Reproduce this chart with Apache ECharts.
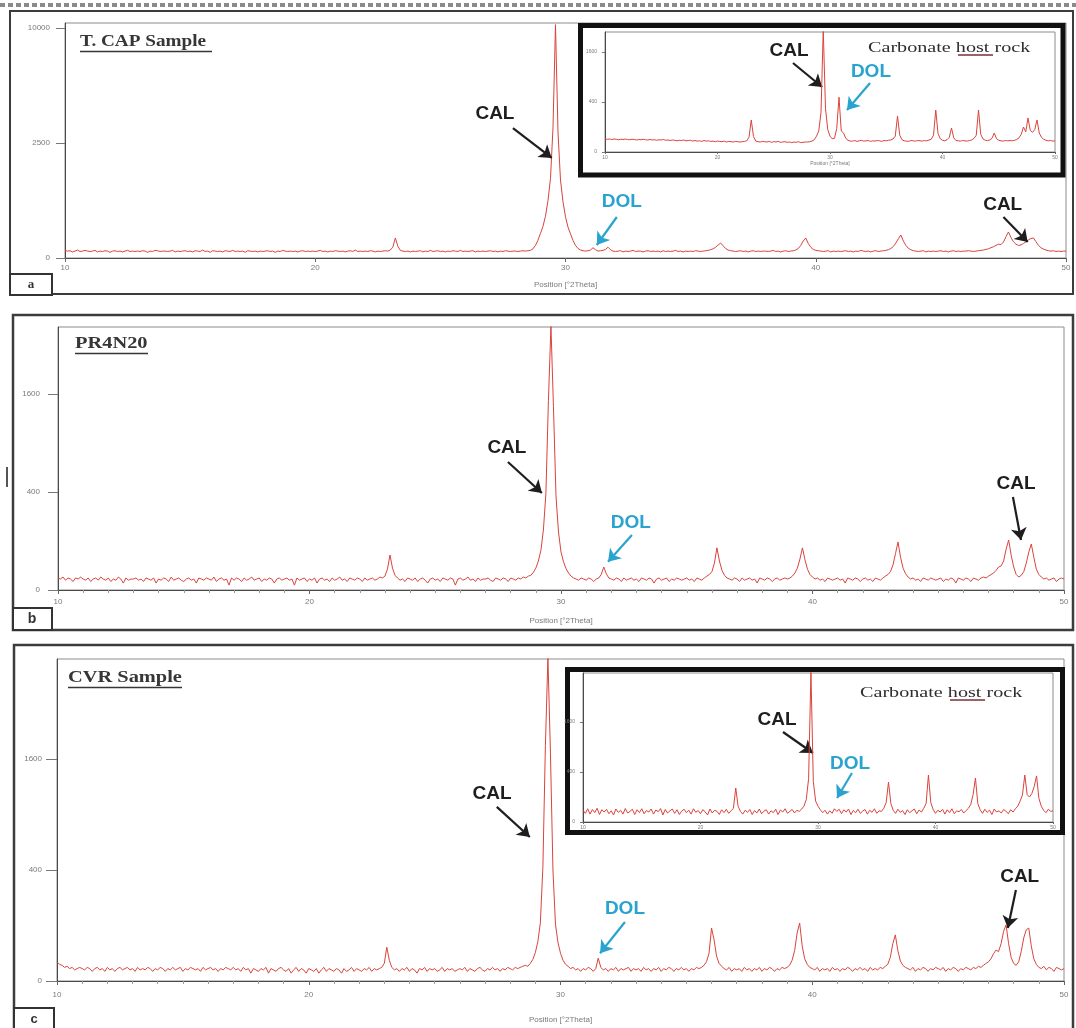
<!DOCTYPE html>
<html>
<head>
<meta charset="utf-8">
<script src="https://cdn.jsdelivr.net/npm/echarts@6/dist/echarts.min.js"></script>
<style>
html,body{margin:0;padding:0;background:#fff;}
#chart{width:1076px;height:1028px;}
</style>
</head>
<body>
<div id="chart"></div>
<script>
// ---- scan settings (°2Theta) ----
const scanStart = 10;
const scanStepMain = 0.1;   // main patterns: 10.0 ... 50.0
const scanStepInset = 0.2;  // inset patterns: 10.0 ... 50.0

// ---- x tick labels ----
const xTickLabels = [10, 20, 30, 40, 50];
// ---- y tick labels (counts, square-root intensity axis) ----
const yTicksA = [0, 2500, 10000];
const yTicksB = [0, 400, 1600];
const yTicksC = [0, 400, 1600];
const yTicksInset = [0, 400, 1600];

// ---- a) T. CAP Sample, counts every 0.1° from 10.0 ----
const countsA = [
 11,9,10,7,9,12,8,9,11,9,
 8,9,11,7,9,8,10,9,6,9,
 10,8,9,7,9,11,8,9,8,9,
 8,10,9,6,9,8,11,10,8,9,
 9,8,9,11,7,9,8,9,10,8,
 9,7,10,9,8,12,8,9,6,10,
 9,8,9,7,10,9,8,11,8,9,
 8,9,6,10,9,8,9,7,9,8,
 9,10,8,9,6,9,8,11,9,8,
 9,8,9,7,9,10,8,9,8,9,
 8,9,11,8,9,7,9,8,10,9,
 8,9,7,9,10,8,12,8,9,8,
 9,8,10,9,7,9,8,9,10,9,
 12,22,76,26,11,9,8,9,7,9,
 8,9,10,7,9,8,11,8,9,10,
 8,9,7,9,8,10,9,8,11,8,
 9,8,9,10,7,9,8,9,8,9,
 10,8,9,7,9,8,10,9,8,9,
 9,8,9,10,9,10,11,16,30,60,
 115,190,330,620,1200,3200,10300,3000,1150,600,
 320,180,110,58,30,17,12,10,9,10,
 12,20,13,9,10,11,14,22,13,9,
 8,9,10,7,9,8,9,11,8,9,
 9,7,9,10,8,9,8,9,7,10,
 8,9,8,9,11,8,9,7,9,8,
 9,8,10,9,8,9,10,11,13,16,
 22,32,42,28,17,12,10,9,8,9,
 10,8,9,7,9,10,8,9,8,9,
 9,8,9,11,8,9,7,9,10,8,
 9,10,12,17,30,55,76,40,22,14,
 11,10,9,8,9,10,7,9,8,9,
 8,9,10,8,9,7,9,8,11,9,
 8,9,7,9,10,8,9,10,11,13,
 17,25,42,70,100,55,30,18,13,10,
 9,8,9,10,7,9,8,9,8,9,
 10,8,9,7,9,10,8,9,8,9,
 9,10,9,8,9,10,11,12,14,16,
 20,24,30,36,34,48,85,128,80,50,
 36,30,32,40,50,62,72,76,50,30,
 20,15,12,10,9,10,8,9,8,9,
 9
];

// ---- b) PR4N20, counts every 0.1° from 10.0 ----
const countsB = [
 6,5,7,4,6,5,3,6,5,7,
 5,4,6,3,5,6,4,7,5,4,
 6,3,5,4,7,5,2,6,4,5,
 5,6,4,5,3,6,5,4,6,2,
 5,4,6,5,3,7,4,5,6,4,
 3,5,6,4,5,2,6,5,4,6,
 5,4,7,3,5,6,4,5,1,6,
 4,6,5,3,6,4,5,7,4,5,
 6,3,5,4,6,5,2,5,6,4,
 5,6,4,5,1,6,4,5,6,3,
 5,4,6,2,5,6,4,5,3,6,
 4,5,7,4,5,3,6,5,4,6,
 5,3,6,4,5,6,4,5,7,6,
 8,18,51,20,9,6,4,5,3,6,
 5,4,6,3,5,6,4,2,5,6,
 4,5,3,6,5,4,6,5,1,5,
 6,4,5,7,4,5,3,6,4,5,
 5,6,4,3,6,5,4,6,5,3,
 6,5,4,6,5,7,6,8,9,13,
 20,35,65,150,390,1500,2900,1400,370,140,
 60,33,19,12,8,6,5,4,6,5,
 4,6,5,3,5,6,10,22,11,6,
 5,4,6,5,3,6,4,5,6,4,
 5,3,6,5,4,6,5,2,5,6,
 4,5,6,3,5,4,6,5,4,5,
 6,4,5,3,6,5,4,6,8,10,
 14,30,74,35,16,9,6,5,4,6,
 5,3,6,4,5,6,4,5,2,6,
 5,4,6,5,3,5,6,4,5,6,
 5,6,8,12,20,40,74,38,18,10,
 7,5,6,4,5,3,6,5,4,5,
 6,4,5,2,6,5,4,6,5,3,
 5,6,4,5,3,6,5,4,6,8,
 10,14,26,55,96,45,20,11,7,5,
 6,4,5,3,6,5,4,6,5,4,
 5,6,3,5,4,6,5,2,6,5,
 4,6,5,3,6,5,4,6,7,6,
 8,10,12,16,22,24,35,70,104,50,
 22,10,7,9,14,30,60,88,45,18,
 10,7,5,6,4,5,6,3,5,6,
 5
];

// ---- c) CVR Sample, counts every 0.1° from 10.0 ----
const countsC = [
 12,9,8,6,7,5,6,4,5,6,
 5,4,6,5,3,5,6,4,5,3,
 6,4,5,3,5,6,4,5,6,4,
 5,3,6,4,5,4,6,5,3,5,
 4,6,5,3,5,4,6,4,5,6,
 3,5,4,6,5,4,5,3,6,4,
 5,6,4,5,3,5,4,6,5,4,
 6,4,5,3,6,4,5,2,5,4,
 3,5,4,6,2,5,4,3,5,6,
 4,3,5,2,4,6,3,5,4,2,
 5,4,3,5,2,4,6,3,5,4,
 3,5,4,2,5,3,4,6,3,5,
 4,3,5,4,6,3,5,4,5,6,
 10,37,14,6,4,5,3,5,4,6,
 3,5,4,2,5,4,6,3,5,4,
 5,3,4,6,3,5,4,5,3,4,
 5,4,6,3,5,4,3,5,6,4,
 3,5,4,6,4,5,3,5,4,6,
 5,4,6,5,6,7,8,7,10,15,
 26,50,110,420,1800,3400,1700,400,105,48,
 25,14,9,7,5,6,4,5,3,5,
 4,6,5,3,5,17,6,4,5,3,
 5,4,6,3,5,4,5,6,3,5,
 4,5,3,6,4,5,3,5,4,6,
 3,5,4,6,5,3,5,4,6,4,
 5,3,5,4,6,5,6,8,12,25,
 91,55,20,10,7,5,4,6,3,5,
 4,5,3,6,4,5,3,5,4,6,
 3,5,4,6,5,3,5,4,6,5,
 6,8,14,30,75,109,40,16,9,6,
 5,4,6,3,5,4,5,3,6,4,
 5,3,5,4,6,5,3,5,4,6,
 4,5,3,6,4,5,4,6,5,7,
 9,18,45,69,30,13,8,6,5,4,
 6,3,5,4,6,5,3,5,4,6,
 5,4,6,3,5,4,6,5,3,5,
 4,6,5,4,6,5,7,6,8,10,
 12,16,24,31,28,45,80,102,45,18,
 10,8,12,28,60,85,91,40,16,9,
 6,5,7,4,6,5,3,6,5,4,
 5
];

// ---- inset (a): Carbonate host rock, counts every 0.2° from 10.0 ----
const countsInsetA = [
 28,26,27,25,27,26,24,26,25,27,
 25,24,26,25,23,25,24,26,24,23,
 25,23,24,22,24,23,25,22,23,21,
 23,22,20,22,21,23,20,21,22,19,
 21,19,20,18,21,19,20,18,19,17,
 19,18,17,19,16,18,17,16,18,17,
 16,17,18,20,35,164,38,19,17,16,
 18,17,16,18,15,17,16,18,15,16,
 17,15,16,14,16,15,17,14,15,16,
 16,17,19,24,40,70,250,2400,300,80,
 40,28,30,90,480,70,58,30,22,19,
 19,21,18,20,22,19,20,21,18,20,
 19,21,20,18,21,20,22,23,27,40,
 207,45,24,20,19,18,21,20,19,21,
 20,19,21,20,23,26,45,282,55,28,
 22,20,24,34,92,32,21,20,19,21,
 20,19,21,23,30,45,282,50,27,22,
 21,23,30,58,28,22,20,19,21,20,
 21,20,22,25,32,50,100,65,185,75,
 62,80,164,58,34,26,22,20,21,19,
 20
];

// ---- inset (c): Carbonate host rock, counts every 0.2° from 10.0 ----
const countsInsetC = [
 22,12,28,10,25,14,30,9,24,16,
 26,11,20,8,27,15,22,10,29,13,
 18,26,9,24,14,28,11,21,16,27,
 10,23,17,29,8,25,13,20,27,12,
 24,9,19,26,14,22,10,28,15,21,
 11,25,16,8,27,13,22,18,9,24,
 14,26,12,20,30,185,40,18,10,22,
 15,25,9,21,13,27,11,19,24,10,
 20,14,26,9,23,16,28,12,18,25,
 13,22,18,26,40,80,300,3600,260,70,
 40,24,14,22,10,20,12,28,18,26,
 11,24,16,27,9,21,14,26,12,19,
 25,10,22,15,28,12,20,18,30,60,
 256,55,22,12,26,15,21,9,24,14,
 20,27,11,23,16,30,55,353,60,25,
 12,22,16,26,10,24,14,28,11,20,
 17,25,13,21,30,50,120,310,55,24,
 12,26,15,22,9,27,16,20,13,25,
 18,11,24,16,28,40,70,117,353,120,
 100,130,200,340,90,40,22,14,26,18,
 20
];

// ---- annotations: [°2Theta, counts] for label centre, arrow start, arrow tip ----
const annotA = [
 {name:'CAL', kind:'cal', label:[27.18,3920], from:[27.9,3192], to:[29.45,1892]},
 {name:'DOL', kind:'dol', label:[32.25,592],  from:[32.05,318], to:[31.25,32]},
 {name:'CAL', kind:'cal', label:[47.47,531],  from:[47.5,318],  to:[48.47,48]}
];
const annotInsetA = [
 {name:'CAL', kind:'cal', label:[26.36,1632], from:[26.71,1267], to:[29.3,676]},
 {name:'DOL', kind:'dol', label:[33.64,1024], from:[33.56,762],  to:[31.51,282]}
];
const annotB = [
 {name:'CAL', kind:'cal', label:[27.85,840], from:[27.89,682], to:[29.24,392]},
 {name:'DOL', kind:'dol', label:[32.78,187], from:[32.82,126], to:[31.87,33]},
 {name:'CAL', kind:'cal', label:[48.09,468], from:[47.97,360], to:[48.29,104]}
];
const annotC = [
 {name:'CAL', kind:'cal', label:[27.28,1135], from:[27.47,983], to:[28.78,673]},
 {name:'DOL', kind:'dol', label:[32.56,168],  from:[32.56,113], to:[31.57,25]},
 {name:'CAL', kind:'cal', label:[48.24,351],  from:[48.09,269], to:[47.77,91]}
];
const annotInsetC = [
 {name:'CAL', kind:'cal', label:[26.51,1665], from:[27.02,1296], to:[29.57,762]},
 {name:'DOL', kind:'dol', label:[32.72,538],  from:[32.89,384],  to:[31.62,92]}
];

// ================= styling / layout =================
const RED = '#d9443c';
const COLORS = {cal:'#1e1e1e', dol:'#2aa4cf'};
const SANS = '"Liberation Sans", Arial, sans-serif';
const SERIF = '"Liberation Serif", "Times New Roman", serif';

const panels = [
 {counts:countsA, step:scanStepMain, ticks:yTicksA, annot:annotA,
  grid:{left:65, top:23, width:1001, height:235}, yMax:102.2, inset:false,
  nameGap:23, xLabelMargin:6, yLabelMargin:15, tickLen:9, minor:false},
 {counts:countsB, step:scanStepMain, ticks:yTicksB, annot:annotB,
  grid:{left:58, top:327, width:1006, height:263}, yMax:53.67, inset:false,
  nameGap:27, xLabelMargin:8, yLabelMargin:18, tickLen:10, minor:true},
 {counts:countsC, step:scanStepMain, ticks:yTicksC, annot:annotC,
  grid:{left:57, top:659, width:1007, height:322}, yMax:58.0, inset:false,
  nameGap:35, xLabelMargin:10, yLabelMargin:15, tickLen:11, minor:true},
 {counts:countsInsetA, step:scanStepInset, ticks:yTicksInset, annot:annotInsetA,
  grid:{left:605, top:32, width:450, height:120}, yMax:48, inset:true,
  nameGap:9, xLabelMargin:3, yLabelMargin:8, tickLen:3, minor:false, showName:true},
 {counts:countsInsetC, step:scanStepInset, ticks:yTicksInset, annot:annotInsetC,
  grid:{left:583, top:673, width:470, height:149}, yMax:59.6, inset:true,
  nameGap:9, xLabelMargin:3, yLabelMargin:8, tickLen:3, minor:false, showName:false}
];

const problems = [];
[['countsA',countsA,401],['countsB',countsB,401],['countsC',countsC,401],
 ['countsInsetA',countsInsetA,201],['countsInsetC',countsInsetC,201]].forEach(([n,a,len])=>{
  if (a.length !== len) problems.push(n + ' has ' + a.length + ' (expected ' + len + ')');
});

const toPoints = (counts, step) =>
  counts.map((c, i) => [Number((scanStart + i * step).toFixed(2)), Math.sqrt(c)]);
const sq = v => Math.sqrt(v);

const grids = [], xAxes = [], yAxes = [], series = [];
panels.forEach((p, i) => {
  const z = p.inset ? 10 : 2;
  grids.push(Object.assign({show:true, borderColor:'#8c8c8c', borderWidth:1,
    backgroundColor:'rgba(0,0,0,0)', z: z}, p.grid));
  const small = p.inset;
  xAxes.push({
    gridIndex:i, type:'value', min:10, max:50, interval:10, z:z,
    axisLine:{show:true, onZero:false, lineStyle:{color:'#4a4a4a', width:1}},
    axisTick:{show:true, length: small?2:4, lineStyle:{color:'#666'}},
    minorTick:{show:p.minor, splitNumber:10, length:3, lineStyle:{color:'#9a9a9a'}},
    axisLabel:{fontSize: small?5:8, color:'#7a7a7a', margin:p.xLabelMargin, fontFamily:SANS,
      customValues:xTickLabels},
    splitLine:{show:false},
    name: (p.inset && !p.showName) ? '' : 'Position [°2Theta]',
    nameLocation:'middle', nameGap:p.nameGap,
    nameTextStyle:{fontSize: small?5:8, color:'#7a7a7a', fontFamily:SANS}
  });
  const tv = p.ticks.map(sq);
  yAxes.push({
    gridIndex:i, type:'value', min:0, max:p.yMax, z:z,
    axisLine:{show:true, lineStyle:{color:'#4a4a4a', width:1}},
    axisTick:{show:true, length:p.tickLen, customValues:tv, lineStyle:{color:'#777'}},
    axisLabel:{customValues:tv, fontSize: small?5:8, color:'#7a7a7a', margin:p.yLabelMargin,
      fontFamily:SANS, formatter: v => String(Math.round(v * v))},
    splitLine:{show:false}
  });
  series.push({
    type:'line', xAxisIndex:i, yAxisIndex:i, z:z,
    data: toPoints(p.counts, p.step),
    symbol:'none', showSymbol:false, sampling:null,
    lineStyle:{color:RED, width:1},
    animation:false, silent:true,
    markLine:{
      silent:true, animation:false,
      symbol:['none','arrow'], symbolSize:12,
      label:{show:false},
      lineStyle:{width:2.2, type:'solid'},
      emphasis:{disabled:true},
      data: p.annot.map(a => [
        {coord:[a.from[0], sq(a.from[1])], lineStyle:{color:COLORS[a.kind], width:2.2, type:'solid'},
         itemStyle:{color:COLORS[a.kind]}},
        {coord:[a.to[0], sq(a.to[1])], itemStyle:{color:COLORS[a.kind]}}
      ])
    },
    markPoint:{
      silent:true, animation:false,
      symbol:'circle', symbolSize:1,
      itemStyle:{color:'rgba(0,0,0,0)'},
      label:{show:true, position:'inside', formatter:'{b}', fontFamily:SANS,
        fontWeight:'bold', fontSize:19},
      data: p.annot.map(a => ({name:a.name, coord:[a.label[0], sq(a.label[1])],
        label:{color:COLORS[a.kind]}}))
    }
  });
});

const TXT = '#363636';
const graphic = [
  // cut strip at top of figure
  {type:'line', z:1, shape:{x1:0,y1:5,x2:1076,y2:5}, style:{stroke:'#8a8a8a', lineWidth:4, lineDash:[5,3]}},
  // outer frames
  {type:'rect', z:1, shape:{x:10, y:11, width:1063, height:283}, style:{fill:'none', stroke:'#3c3c3c', lineWidth:2}},
  {type:'rect', z:1, shape:{x:13, y:315, width:1060, height:315}, style:{fill:'none', stroke:'#3c3c3c', lineWidth:2.5}},
  {type:'rect', z:1, shape:{x:14, y:645, width:1059, height:400}, style:{fill:'none', stroke:'#3c3c3c', lineWidth:2.5}},
  {type:'line', z:1, shape:{x1:7,y1:467,x2:7,y2:487}, style:{stroke:'#555', lineWidth:2}},
  // panel letters
  {type:'rect', z:3, shape:{x:10, y:274, width:42, height:21}, style:{fill:'#fff', stroke:'#333', lineWidth:2}},
  {type:'text', z:4, x:31, y:285, style:{text:'a', font:'bold 13px ' + SERIF, fill:'#333', align:'center', verticalAlign:'middle'}},
  {type:'rect', z:3, shape:{x:13, y:608, width:39, height:22}, style:{fill:'#fff', stroke:'#333', lineWidth:2}},
  {type:'text', z:4, x:32, y:619, style:{text:'b', font:'bold 14px ' + SANS, fill:'#333', align:'center', verticalAlign:'middle'}},
  {type:'rect', z:3, shape:{x:14, y:1008, width:40, height:24}, style:{fill:'#fff', stroke:'#333', lineWidth:2}},
  {type:'text', z:4, x:34, y:1019, style:{text:'c', font:'bold 13px ' + SANS, fill:'#333', align:'center', verticalAlign:'middle'}},
  // sample titles
  {type:'text', z:20, x:80, y:42, scaleX:1.13, style:{text:'T. CAP Sample', font:'bold 17px ' + SERIF, fill:TXT, align:'left', verticalAlign:'middle'}},
  {type:'line', z:20, shape:{x1:80,y1:51.5,x2:212,y2:51.5}, style:{stroke:TXT, lineWidth:1.3}},
  {type:'text', z:20, x:75, y:344, scaleX:1.2, style:{text:'PR4N20', font:'bold 17px ' + SERIF, fill:TXT, align:'left', verticalAlign:'middle'}},
  {type:'line', z:20, shape:{x1:75,y1:353.5,x2:148,y2:353.5}, style:{stroke:TXT, lineWidth:1.3}},
  {type:'text', z:20, x:68, y:678, scaleX:1.2, style:{text:'CVR Sample', font:'bold 17px ' + SERIF, fill:TXT, align:'left', verticalAlign:'middle'}},
  {type:'line', z:20, shape:{x1:68,y1:687.5,x2:182,y2:687.5}, style:{stroke:TXT, lineWidth:1.3}},
  // inset boxes (white background, thick black frame)
  {type:'rect', z:5, shape:{x:580.5, y:25.5, width:482.5, height:149.5}, style:{fill:'#fff', stroke:'#111', lineWidth:5}},
  {type:'rect', z:5, shape:{x:567.5, y:669.5, width:495, height:163}, style:{fill:'#fff', stroke:'#111', lineWidth:5}},
  // inset captions
  {type:'text', z:20, x:868, y:48, scaleX:1.3, style:{text:'Carbonate host rock', font:'15.5px ' + SERIF, fill:'#2e2e2e', align:'left', verticalAlign:'middle'}},
  {type:'line', z:20, shape:{x1:958,y1:55,x2:993,y2:55}, style:{stroke:'#7a2f33', lineWidth:1.4}},
  {type:'text', z:20, x:860, y:693, scaleX:1.3, style:{text:'Carbonate host rock', font:'15.5px ' + SERIF, fill:'#2e2e2e', align:'left', verticalAlign:'middle'}},
  {type:'line', z:20, shape:{x1:950,y1:700,x2:985,y2:700}, style:{stroke:'#7a2f33', lineWidth:1.4}}
];
if (problems.length) {
  graphic.push({type:'text', z:50, x:300, y:500, style:{text:problems.join('\n'), font:'bold 20px sans-serif', fill:'#f00'}});
}

const chart = echarts.init(document.getElementById('chart'), null, {renderer:'canvas'});
chart.setOption({
  animation:false,
  backgroundColor:'#ffffff',
  grid:grids, xAxis:xAxes, yAxis:yAxes, series:series,
  graphic:graphic
});
</script>
</body>
</html>
